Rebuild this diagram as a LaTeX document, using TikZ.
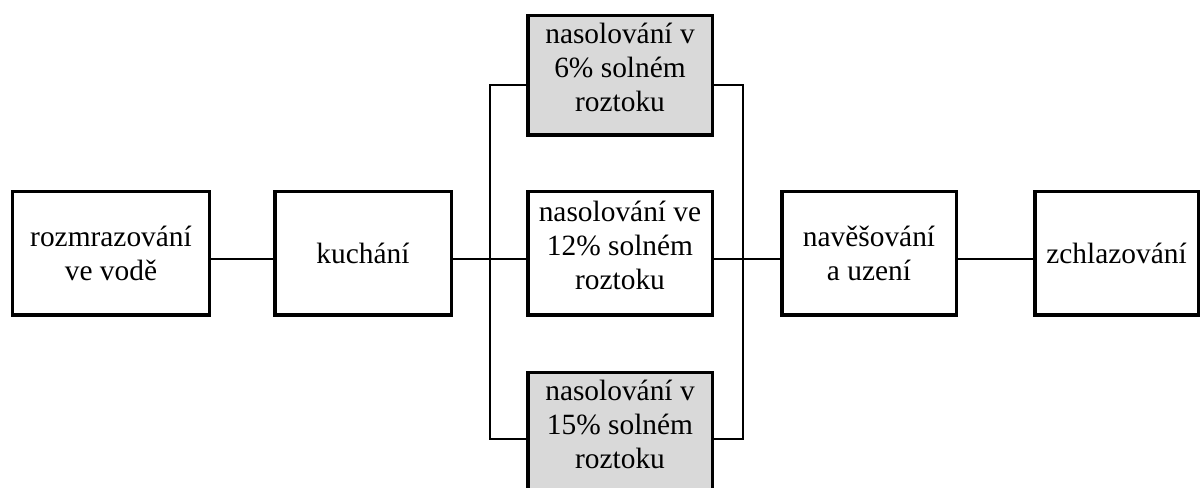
\documentclass[tikz,border=0pt]{standalone}
\usepackage{fontspec}
\setmainfont{Liberation Serif}
\begin{document}
\begin{tikzpicture}[x=1bp,y=1bp,
  stepbox/.style={draw, line width=3.5bp, rectangle, align=center, inner sep=0pt,
    font=\fontsize{29.5}{34}\selectfont},
  threeline/.style={text depth=16bp},
  graybox/.style={stepbox, threeline, fill=black!15},
  link/.style={line width=1.8bp}]
\useasboundingbox (0,0) rectangle (1202,-488);
% boxes (centre, size = outer size minus line width)
\node[stepbox, minimum width=196.5bp, minimum height=123.5bp] (b1) at (111,-253.5) {rozmrazování\\ve vodě};
\node[stepbox, minimum width=176.5bp, minimum height=123.5bp] (b2) at (363,-253.5) {kuchání};
\node[graybox, minimum width=184.5bp, minimum height=119.5bp] (t6) at (620,-75.5) {nasolování v\\6\% solném\\roztoku};
\node[stepbox, threeline, minimum width=184.5bp, minimum height=123.5bp] (m12) at (620,-253.5) {nasolování ve\\12\% solném\\roztoku};
\node[graybox, minimum width=184.5bp, minimum height=119.5bp] (b15) at (620,-432.5) {nasolování v\\15\% solném\\roztoku};
\node[stepbox, minimum width=174.5bp, minimum height=123.5bp] (nav) at (869,-253.5) {navěšování\\a uzení};
\node[stepbox, minimum width=163.5bp, minimum height=123.5bp] (zch) at (1116.5,-253.5) {zchlazování};
% junction coordinates
\coordinate (L) at (490,-259);
\coordinate (R) at (743,-259);
% connectors
\draw[link] ([yshift=-5.5bp]b1.east) -- ([yshift=-5.5bp]b2.west);
\draw[link] ([yshift=-5.5bp]b2.east) -- ([yshift=-5.5bp]m12.west);
\draw[link] ([yshift=-5.5bp]m12.east) -- ([yshift=-5.5bp]nav.west);
\draw[link] ([yshift=-5.5bp]nav.east) -- ([yshift=-5.5bp]zch.west);
\draw[link] ([yshift=-9.5bp]t6.west) -| (L) |- ([yshift=-6.5bp]b15.west);
\draw[link] ([yshift=-9.5bp]t6.east) -| (R) |- ([yshift=-6.5bp]b15.east);
\end{tikzpicture}
\end{document}
